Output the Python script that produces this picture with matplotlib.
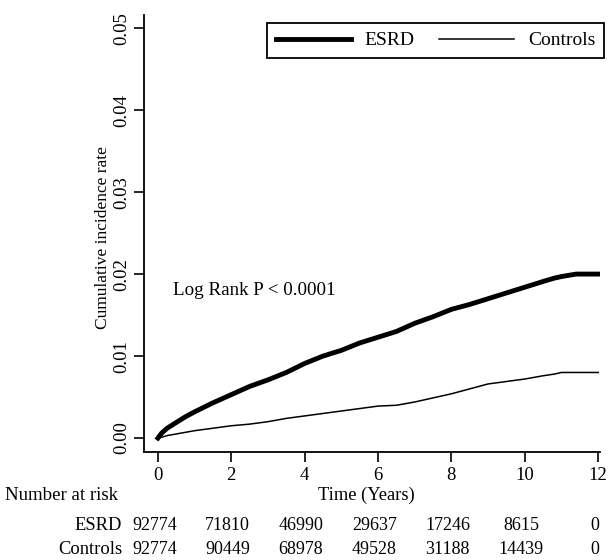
import matplotlib
matplotlib.use("Agg")
import matplotlib.pyplot as plt
import matplotlib.transforms as mtransforms

plt.rcParams['font.family'] = ['Liberation Serif', 'DejaVu Serif']
plt.rcParams['font.size'] = 12.5

# curves
years = [0, 0.1, 0.25, 0.5, 0.75, 1, 1.5, 2, 2.5, 3, 3.5, 4, 4.5, 5, 5.5, 6,
         6.5, 7, 7.5, 8, 8.5, 9, 9.5, 10, 10.5, 10.8, 11.0, 11.4, 12]
esrd = [0, 0.0006, 0.0012, 0.0019, 0.0026, 0.0032, 0.0043, 0.0053, 0.0063,
        0.0071, 0.0080, 0.0091, 0.0100, 0.0107, 0.0116, 0.0123, 0.0130,
        0.0140, 0.0148, 0.0157, 0.0163, 0.0170, 0.0177, 0.0184, 0.0191,
        0.0195, 0.0197, 0.0200, 0.0200]
controls = [0, 0.0001, 0.0003, 0.0005, 0.0007, 0.0009, 0.0012, 0.0015,
            0.0017, 0.0020, 0.0024, 0.0027, 0.0030, 0.0033, 0.0036, 0.0039,
            0.0040, 0.0044, 0.0049, 0.0054, 0.0060, 0.0066, 0.0069, 0.0072,
            0.0076, 0.0078, 0.0080, 0.0080, 0.0080]

# number at risk table
risk_times = [0, 2, 4, 6, 8, 10, 12]
risk_esrd = [92774, 71810, 46990, 29637, 17246, 8615, 0]
risk_controls = [92774, 90449, 68978, 49528, 31188, 14439, 0]

W, H = 610, 560
fig = plt.figure(figsize=(W / 100, H / 100), dpi=100)
ax = fig.add_axes([144 / W, (H - 452) / H, (600 - 144) / W, (452 - 15) / H])

ax.plot(years, esrd, color='black', lw=3.5, label='ESRD', solid_joinstyle='round')
ax.plot(years, controls, color='black', lw=1.1, label='Controls')

ax.set_xlim(-0.38, 12.05)
ax.set_ylim(-0.0017, 0.0516)
ax.set_xticks(risk_times)
ax.set_yticks([0, 0.01, 0.02, 0.03, 0.04, 0.05])
ax.set_yticklabels(['0.00', '0.01', '0.02', '0.03', '0.04', '0.05'],
                   rotation=90, va='center')
ax.tick_params(length=7, width=1.2, pad=4, labelsize=13.5)
ax.tick_params(axis='y', pad=3)
for s in ['top', 'right']:
    ax.spines[s].set_visible(False)
for s in ['left', 'bottom']:
    ax.spines[s].set_linewidth(1.3)

fig.text(103 / W, 1 - 238 / H, 'Cumulative incidence rate', rotation=90,
         ha='center', va='center')

ax.text(0.40, 0.01805, 'Log Rank P < 0.0001', ha='left', va='center',
        fontsize=13.7)

leg = ax.legend(ncol=2, loc='upper right', bbox_to_anchor=(604 / W, 1 - 23 / H),
                bbox_transform=fig.transFigure, borderaxespad=0,
                fancybox=False, handlelength=3.85, handletextpad=0.7,
                columnspacing=1.3, borderpad=0.45, framealpha=1, fontsize=14)
leg.get_frame().set_edgecolor('black')
leg.get_frame().set_linewidth(1.3)

# risk table under the axis
tr = mtransforms.blended_transform_factory(ax.transData, fig.transFigure)
fig.text(5 / W, 1 - 495 / H, 'Number at risk', ha='left', va='center',
         fontsize=13.6)
fig.text(366 / W, 1 - 495 / H, 'Time (Years)', ha='center', va='center',
         fontsize=13.3)
fig.text(122 / W, 1 - 525 / H, 'ESRD', ha='right', va='center', fontsize=13.3)
fig.text(122 / W, 1 - 550 / H, 'Controls', ha='right', va='center',
         fontsize=13.3)
for t, a, b in zip(risk_times, risk_esrd, risk_controls):
    ax.text(t - 0.1, 1 - 526 / H, str(a), transform=tr, ha='center',
            va='center', fontsize=13)
    ax.text(t - 0.1, 1 - 550 / H, str(b), transform=tr, ha='center',
            va='center', fontsize=13)

fig.savefig('out.png', dpi=100)
